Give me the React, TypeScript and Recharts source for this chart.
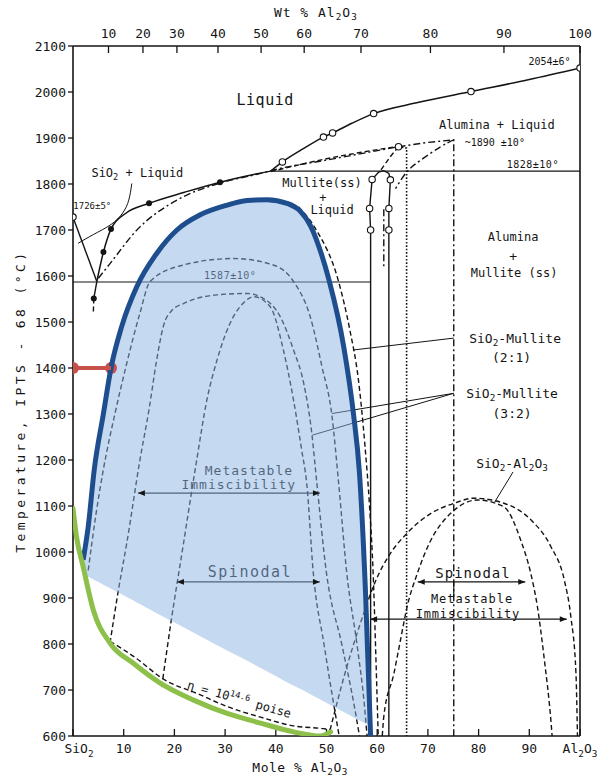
import React from "react";
import { ComposedChart, Line, Area, XAxis, YAxis, ReferenceDot } from "recharts";

// every trace: [mole % Al2O3, temperature °C, marker?]  ("o" open circle, "f" filled dot)
type P = [number, number, string?];

const moleTicks = [0, 10, 20, 30, 40, 50, 60, 70, 80, 90, 100];
const tempTicks = [600, 700, 800, 900, 1000, 1100, 1200, 1300, 1400, 1500, 1600, 1700, 1800, 1900, 2000, 2100];
// wt % scale along the top, placed at the matching mole %
const wtTickPos = [7.0, 13.8, 20.5, 28.6, 37.1, 45.6, 56.8, 70.5, 85.0, 100];
const wtTickLabels = ["10", "20", "30", "40", "50", "60", "70", "80", "90", "100"];

// stable equilibria
const liquidusSiO2: P[] = [[0, 1728, "o"], [4.7, 1588]];
const eutecticStub: P[] = [[4.7, 1588], [4.1, 1551, "f"]];
const eutecticTail: P[] = [[4.1, 1551], [4.0, 1518]];
const liquidusLow: P[] = [[4.7, 1588], [6.0, 1652, "f"], [7.5, 1702, "f"], [10.5, 1737], [15.0, 1758, "f"], [22, 1782], [29, 1804, "f"], [34, 1817], [39, 1828]];
const liquidusHigh: P[] = [[39, 1828], [41.3, 1848, "o"], [45, 1874], [49.4, 1902, "o"], [51.2, 1911, "o"], [55, 1932], [59.3, 1953, "o"], [68, 1977], [78.5, 2001, "o"], [90, 2027], [100, 2052, "o"]];
const eutectic1587: P[] = [[0, 1587], [58.7, 1587]];
const peritectic1828: P[] = [[39, 1828], [100, 1828]];
const mulliteLoop: P[] = [[58.7, 600], [58.7, 1700, "o"], [58.5, 1747, "o"], [59.0, 1810, "o"], [60.3, 1826], [61.3, 1829], [62.3, 1823], [62.6, 1809, "o"], [62.3, 1747, "o"], [62.3, 1700, "o"], [62.3, 600]];

// metastable extensions
const metaLiquidus: P[] = [[5.0, 1595], [7.3, 1627], [12.6, 1700], [20.5, 1765], [29, 1802], [37, 1823], [39, 1829], [50.5, 1853], [64.2, 1881, "o"]];
const metaLiquidus2: P[] = [[39, 1827], [50.5, 1856], [64.2, 1882]];
const aluminaLine: P[] = [[64.2, 1881], [69.6, 1890], [75.1, 1896], [75.1, 600]];
const aluminaCurve: P[] = [[75.1, 1896], [72.5, 1881], [68.6, 1852], [65.9, 1827], [63.6, 1790]];
const mulliteDash: P[] = [[64.2, 1881], [62.5, 1858], [60.7, 1830]];
const mulliteDotted: P[] = [[64.2, 1881], [65.8, 1878], [65.8, 600]];
const mulliteDashDot: P[] = [[61.3, 1745], [61.3, 1620]];

// immiscibility domes
const binodal21: P[] = [[44.5, 1750], [48.0, 1700], [52.3, 1591], [54.6, 1483], [56.3, 1374], [57.6, 1229], [58.5, 1098], [59.2, 954], [59.8, 750], [60.2, 600]];
const binodal32: P[] = [[3.0, 960], [4.5, 1080], [6.0, 1180], [8.3, 1302], [10.6, 1410], [13.2, 1519], [15.2, 1588], [21.8, 1624], [31.6, 1638], [39.5, 1624], [43.5, 1588], [46.8, 1511], [49.1, 1403], [51.1, 1294], [52.4, 1149], [54.0, 954], [56.0, 800], [57.5, 664], [58.0, 600]];
const domeMid: P[] = [[7.3, 802], [9.0, 920], [10.6, 1019], [13.2, 1200], [15.0, 1310], [16.5, 1417], [17.8, 1490], [19.5, 1525], [21.8, 1540], [28.4, 1559], [34.3, 1562], [37.6, 1551], [40.9, 1511], [43.5, 1439], [45.5, 1367], [47.1, 1258], [48.1, 1149], [50.0, 954], [53.0, 800], [55.5, 664], [56.5, 600]];
const domeInner: P[] = [[17.5, 707], [19.2, 838], [21.8, 1019], [24.4, 1200], [26.4, 1330], [28.4, 1417], [31.6, 1511], [33.5, 1540], [35.6, 1555], [38.9, 1533], [41.5, 1439], [43.5, 1330], [45.1, 1222], [46.1, 1149], [47.4, 954], [49.5, 800], [51.5, 664], [52.5, 600]];
const aluminaBinodal: P[] = [[50.7, 613], [54.0, 750], [56.9, 852], [59.8, 940], [62.6, 997], [65.9, 1041], [70.6, 1084], [75.2, 1106], [79.1, 1117], [85.0, 1106], [90.3, 1070], [94.3, 1011], [96.9, 939], [98.2, 859], [99.2, 737], [99.5, 600]];
const aluminaSpinodal: P[] = [[61.0, 600], [61.3, 642], [63.3, 736], [64.6, 809], [65.9, 881], [67.9, 953], [70.6, 1026], [74.5, 1084], [79.8, 1113], [85.0, 1098], [88.3, 1026], [90.3, 953], [91.6, 881], [92.9, 772], [94.3, 628], [94.5, 600]];
const viscosityIso: P[] = [[7.3, 806], [12.6, 768], [17.5, 726], [25.0, 690], [30.4, 664], [37.0, 641], [43.5, 622], [49.4, 616], [50.7, 614]];

// leaders and arrows
const leader21: P[] = [[75.1, 1465], [55.2, 1439]];
const leader32a: P[] = [[75.1, 1345], [51.1, 1301]];
const leader32b: P[] = [[75.1, 1345], [47.2, 1254]];
const leaderAl: P[] = [[86.8, 1174], [83.2, 1109]];
const leaderLiq: P[] = [[11.6, 1801], [11.0, 1765], [9.8, 1737], [7.5, 1712], [4.0, 1690], [1.0, 1671]];
const arrowMetaL: P[] = [[12.8, 1128], [48.7, 1128]];
const arrowSpinL: P[] = [[20.5, 935], [48.7, 935]];
const arrowSpinR: P[] = [[68.0, 935], [89.2, 935]];
const arrowMetaR: P[] = [[58.6, 854], [97.4, 854]];
const spinTick: P[] = [[75.1, 935], [75.1, 903]];

// highlighted overlay
const dome: P[] = [[2.0, 983], [3.0, 1055], [4.2, 1180], [6.0, 1301], [7.5, 1400], [9.6, 1490], [12.6, 1577], [16.5, 1649], [20.5, 1700], [25.1, 1733], [30.4, 1754], [34.3, 1764], [38.3, 1766], [42.2, 1758], [44.9, 1740], [46.8, 1710], [48.5, 1664], [50.5, 1591], [53.4, 1446], [55.3, 1302], [56.5, 1172], [57.7, 911], [58.7, 600]];
const shadeFloor = [952, 946, 939, 929, 920, 908, 890, 867, 844, 817, 786, 764, 740, 717, 702, 691, 681, 669, 652, 641, 634, 627];
const glassLine: P[] = [[0, 1095], [0.7, 1033], [2.0, 968], [4.0, 874], [7.3, 802], [11.9, 758], [17.2, 715], [23.8, 678], [30.4, 649], [37.0, 628], [43.5, 609], [48.8, 600], [50.8, 609]];
const marker1400: P[] = [[0, 1400], [7.5, 1400]];

const FONT = '"DejaVu Sans Mono", monospace';
const INK = "#141414";

type Note = { x: number; t: number; s: string; fs: number; ls?: number; rot?: number };
const notes: Note[] = [
  { x: 47.9, t: 2174, s: "Wt % Al_2O_3", fs: 13, ls: 1 },
  { x: 44.8, t: 532, s: "Mole % Al_2O_3", fs: 13, ls: 0.5 },
  { x: -10.4, t: 1328, s: "Temperature, IPTS - 68 (°C)", fs: 13, ls: 3.4, rot: -90 },
  { x: 37.9, t: 1983, s: "Liquid", fs: 15, ls: 0.5 },
  { x: 12.7, t: 1825, s: "SiO_2 + Liquid", fs: 12 },
  { x: 3.8, t: 1752, s: "1726±5°", fs: 9 },
  { x: 94.0, t: 2066, s: "2054±6°", fs: 10 },
  { x: 83.6, t: 1928, s: "Alumina + Liquid", fs: 12 },
  { x: 83.2, t: 1890, s: "~1890 ±10°", fs: 10 },
  { x: 90.7, t: 1843, s: "1828±10°", fs: 10, ls: 0.5 },
  { x: 49.1, t: 1802, s: "Mullite(ss)", fs: 12 },
  { x: 49.3, t: 1771, s: "+", fs: 12 },
  { x: 51.1, t: 1743, s: "Liquid", fs: 12 },
  { x: 86.8, t: 1685, s: "Alumina", fs: 12 },
  { x: 86.8, t: 1643, s: "+", fs: 13 },
  { x: 87.0, t: 1607, s: "Mullite (ss)", fs: 12 },
  { x: 31.0, t: 1602, s: "1587±10°", fs: 10, ls: 0.5 },
  { x: 87.2, t: 1465, s: "SiO_2-Mullite", fs: 13 },
  { x: 86.5, t: 1424, s: "(2:1)", fs: 13 },
  { x: 86.6, t: 1345, s: "SiO_2-Mullite", fs: 13 },
  { x: 86.6, t: 1302, s: "(3:2)", fs: 13 },
  { x: 86.6, t: 1193, s: "SiO_2-Al_2O_3", fs: 13 },
  { x: 34.7, t: 1178, s: "Metastable", fs: 13, ls: 1 },
  { x: 32.7, t: 1146, s: "Immiscibility", fs: 13, ls: 1 },
  { x: 34.9, t: 957, s: "Spinodal", fs: 15, ls: 1.5 },
  { x: 78.9, t: 954, s: "Spinodal", fs: 14, ls: 1 },
  { x: 78.7, t: 899, s: "Metastable", fs: 12, ls: 1 },
  { x: 77.9, t: 866, s: "Immiscibility", fs: 12, ls: 0.8 },
  { x: 32.8, t: 680, s: "η = 10^{14.6} poise", fs: 12, rot: 16 },
];

const pts = (arr: P[]) => arr.map(([x, t, m]) => ({ x, t, m }));

function rich(s: string, fs: number) {
  const parts = s.split(/(_[0-9]|\^\{[^}]*\})/);
  const out: React.ReactNode[] = [];
  let back = 0;
  parts.forEach((p, i) => {
    if (!p) return;
    if (p[0] === "_") {
      out.push(<tspan key={i} dy={back + fs * 0.28} fontSize={fs * 0.72}>{p.slice(1)}</tspan>);
      back = -fs * 0.28;
    } else if (p[0] === "^") {
      out.push(<tspan key={i} dy={back - fs * 0.4} fontSize={fs * 0.72}>{p.slice(2, -1)}</tspan>);
      back = fs * 0.4;
    } else {
      out.push(<tspan key={i} dy={back}>{p}</tspan>);
      back = 0;
    }
  });
  return out;
}

const marks = (p: any) => {
  const { cx, cy, payload, index } = p;
  if (payload.m === "o") return <circle key={index} cx={cx} cy={cy} r={3.2} fill="#fff" stroke={INK} strokeWidth={1.1} />;
  if (payload.m === "f") return <circle key={index} cx={cx} cy={cy} r={3} fill={INK} />;
  return <g key={index} />;
};

const arrowHeads = (p: any) => {
  const { cx, cy, index } = p;
  const d = index === 0 ? 1 : -1;
  return <polygon key={index} points={`${cx},${cy} ${cx + 7 * d},${cy - 2.8} ${cx + 7 * d},${cy + 2.8}`} fill={INK} />;
};

const dotRed = (p: any) => <circle key={p.index} cx={p.cx} cy={p.cy} r={6} fill="#c8504b" />;

const DASH = "5 3";
const DASHDOT = "7 3 2 3";
const DOTTED = "1.6 1.8";

type Style = { dash?: string; type?: any; dots?: any; w?: number };
const trace = (key: string, data: P[], st: Style = {}) => (
  <Line
    key={key}
    data={pts(data)}
    dataKey="t"
    type={st.type ?? "monotone"}
    stroke={INK}
    strokeWidth={st.w ?? 1.4}
    strokeDasharray={st.dash}
    dot={st.dots ?? false}
    activeDot={false}
    legendType="none"
    isAnimationActive={false}
  />
);

const MoleTick = (p: any) => {
  const v = p.payload.value;
  const s = v === 0 ? "SiO_2" : v === 100 ? "Al_2O_3" : String(v);
  return (
    <text x={p.x + (v === 0 ? 6 : 0)} y={p.y} textAnchor="middle" dy="0.35em" fontSize={13} fontFamily={FONT} fill={INK}>
      {rich(s, 13)}
    </text>
  );
};

const WtTick = (p: any) => (
  <text x={p.x} y={p.y} textAnchor="middle" dy="0.35em" fontSize={13} fontFamily={FONT} fill={INK}>
    {wtTickLabels[p.index]}
  </text>
);

const axisLine = { stroke: INK, strokeWidth: 1.6 };
const tickLine = { stroke: INK, strokeWidth: 1.3 };

export default function App() {
  const shade = dome.slice(0, -1).map(([x, hi], i) => ({ x, r: [shadeFloor[i], hi] }));
  shade.push({ x: 58.55, r: [623, 623] });

  return (
    <div style={{ position: "absolute", left: 0, top: 0, width: 606, height: 779, background: "#fff" }}>
      <ComposedChart width={606} height={779} margin={{ top: 0, right: 0, bottom: 0, left: 0 }}>
        <XAxis
          type="number"
          dataKey="x"
          domain={[0, 100]}
          ticks={moleTicks}
          allowDataOverflow
          height={43}
          tickSize={-7}
          tickMargin={24}
          tick={<MoleTick />}
          axisLine={axisLine}
          tickLine={tickLine}
        />
        <XAxis
          xAxisId="wt"
          orientation="top"
          type="number"
          dataKey="x"
          domain={[0, 100]}
          ticks={wtTickPos}
          allowDataOverflow
          height={46}
          tickSize={-7}
          tickMargin={20}
          tick={<WtTick />}
          axisLine={axisLine}
          tickLine={tickLine}
        />
        <YAxis
          type="number"
          domain={[600, 2100]}
          ticks={tempTicks}
          allowDataOverflow
          width={73}
          tickSize={5}
          tickMargin={2}
          tick={{ fill: INK, fontSize: 13, fontFamily: FONT }}
          axisLine={axisLine}
          tickLine={tickLine}
        />
        <YAxis
          yAxisId="r"
          orientation="right"
          type="number"
          domain={[600, 2100]}
          ticks={tempTicks}
          allowDataOverflow
          width={26}
          tickSize={-8}
          tick={false}
          axisLine={axisLine}
          tickLine={tickLine}
        />

        {trace("liqSiO2", liquidusSiO2, { type: "linear", dots: marks })}
        {trace("stub", eutecticStub, { type: "linear", dots: marks })}
        {trace("tail", eutecticTail, { type: "linear", dash: DASH })}
        {trace("liqLow", liquidusLow, { dots: marks, w: 1.5 })}
        {trace("liqHigh", liquidusHigh, { dots: marks, w: 1.5 })}
        {trace("e1587", eutectic1587, { type: "linear", w: 1.2 })}
        {trace("p1828", peritectic1828, { type: "linear", w: 1.2 })}
        {trace("mullite", mulliteLoop, { type: "linear", dots: marks })}
        {trace("metaLiq", metaLiquidus, { dash: DASHDOT, dots: marks })}
        {trace("metaLiq2", metaLiquidus2, { dash: DASH })}
        {trace("alLine", aluminaLine, { type: "linear", dash: DASHDOT })}
        {trace("alCurve", aluminaCurve, { type: "natural", dash: DASHDOT })}
        {trace("mulDash", mulliteDash, { type: "natural", dash: DASH })}
        {trace("mulDot", mulliteDotted, { type: "linear", dash: DOTTED, w: 1.6 })}
        {trace("mulDashDot", mulliteDashDot, { type: "linear", dash: DASHDOT })}

        {trace("b21", binodal21, { dash: DASH })}
        {trace("b32", binodal32, { dash: DASH })}
        {trace("mid", domeMid, { dash: DASH })}
        {trace("inner", domeInner, { dash: DASH })}
        {trace("alBin", aluminaBinodal, { dash: DASH })}
        {trace("alSpin", aluminaSpinodal, { dash: DASH })}
        {trace("visc", viscosityIso, { dash: DASH })}

        {trace("l21", leader21, { type: "linear", w: 1 })}
        {trace("l32a", leader32a, { type: "linear", w: 1 })}
        {trace("l32b", leader32b, { type: "linear", w: 1 })}
        {trace("lAl", leaderAl, { type: "linear", w: 1 })}
        {trace("lLiq", leaderLiq, { type: "natural", w: 1 })}
        {trace("aML", arrowMetaL, { type: "linear", dots: arrowHeads, w: 1.2 })}
        {trace("aSL", arrowSpinL, { type: "linear", dots: arrowHeads, w: 1.2 })}
        {trace("aSR", arrowSpinR, { type: "linear", dots: arrowHeads, w: 1.2 })}
        {trace("aMR", arrowMetaR, { type: "linear", dots: arrowHeads, w: 1.2 })}
        {trace("sTick", spinTick, { type: "linear", w: 1.2 })}

        {notes.map((n, i) => (
          <ReferenceDot
            key={"n" + i}
            x={n.x}
            y={n.t}
            r={0}
            ifOverflow="visible"
            zIndex={420}
            shape={(p: any) => (
              <text
                x={p.cx}
                y={p.cy + n.fs * 0.35}
                textAnchor="middle"
                fontSize={n.fs}
                fontFamily={FONT}
                letterSpacing={n.ls ?? 0}
                fill={INK}
                transform={n.rot ? `rotate(${n.rot} ${p.cx} ${p.cy})` : undefined}
              >
                {rich(n.s, n.fs)}
              </text>
            )}
          />
        ))}

        <Area
          data={shade}
          dataKey="r"
          type="monotone"
          stroke="none"
          fill="rgb(139,179,227)"
          fillOpacity={0.5}
          activeDot={false}
          legendType="none"
          zIndex={450}
          isAnimationActive={false}
        />
        <Line data={pts(dome)} dataKey="t" type="monotone" stroke="#1f4e8e" strokeWidth={5} dot={false} activeDot={false} legendType="none" zIndex={800} isAnimationActive={false} />
        <Line data={pts(glassLine)} dataKey="t" type="monotone" stroke="#8cc04a" strokeWidth={5} strokeLinecap="round" dot={false} activeDot={false} legendType="none" zIndex={800} isAnimationActive={false} />
        <Line data={pts(marker1400)} dataKey="t" type="linear" stroke="#c8504b" strokeWidth={4} dot={dotRed} activeDot={false} legendType="none" zIndex={800} isAnimationActive={false} />
      </ComposedChart>
    </div>
  );
}
